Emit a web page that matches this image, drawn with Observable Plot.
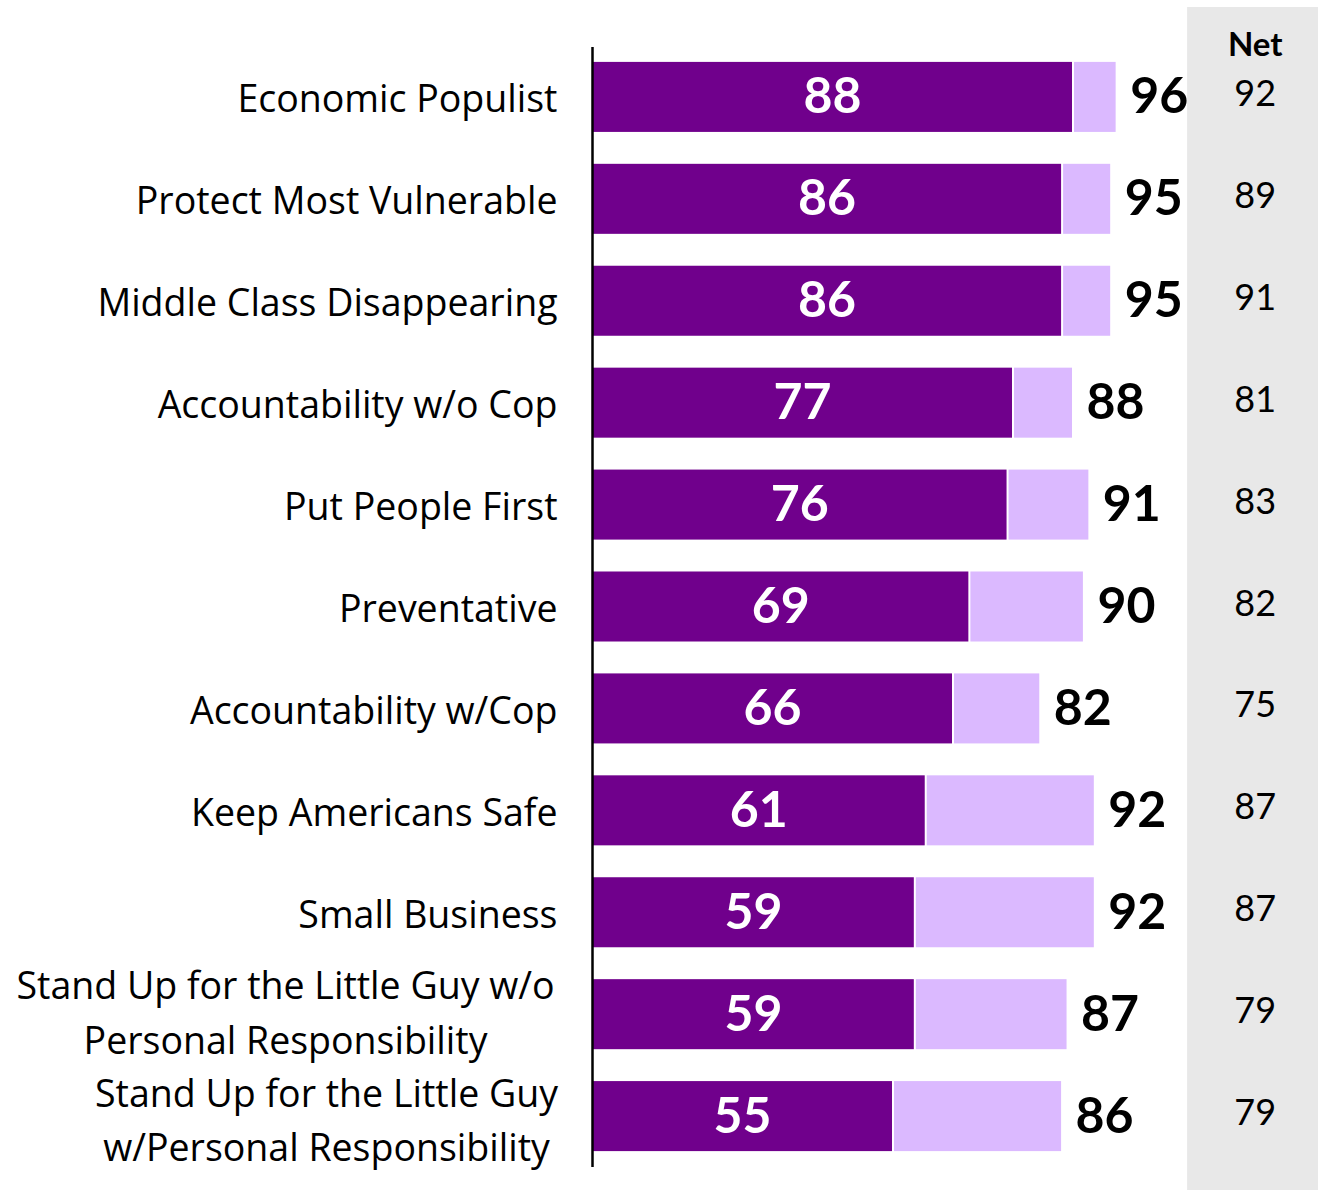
<!DOCTYPE html>
<html>
<head>
<meta charset="utf-8">
<script src="https://cdn.jsdelivr.net/npm/d3@7"></script>
<script src="https://cdn.jsdelivr.net/npm/@observablehq/plot@0.6"></script>
<style>
  html, body { margin: 0; padding: 0; background: #fff; }
  #chart svg { display: block; }
</style>
</head>
<body>
<div id="chart"></div>
<script>
const categories = [
  "Economic Populist",
  "Protect Most Vulnerable",
  "Middle Class Disappearing",
  "Accountability w/o Cop",
  "Put People First",
  "Preventative",
  "Accountability w/Cop",
  "Keep Americans Safe",
  "Small Business",
  "Stand Up for the Little Guy w/o\nPersonal Responsibility",
  "Stand Up for the Little Guy\nw/Personal Responsibility"
];
const strong = [88, 86, 86, 77, 76, 69, 66, 61, 59, 59, 55];
const total  = [96, 95, 95, 88, 91, 90, 82, 92, 92, 87, 86];
const net    = [92, 89, 91, 81, 83, 82, 75, 87, 87, 79, 79];
const netHeader = "Net";

const data = categories.map((c, i) => ({cat: c, strong: strong[i], total: total[i], net: net[i]}));
const single = data.filter(d => !d.cat.includes("\n"));
const multi = data.filter(d => d.cat.includes("\n"));

const DARK = "#70008C";
const LIGHT = "#DBB9FF";
const FONT = "Lato, 'Open Sans', sans-serif";
const LABEL_FONT = "'Open Sans', 'Noto Sans', sans-serif";

const chart = Plot.plot({
  width: 1318,
  height: 1190,
  marginLeft: 592,
  marginRight: 0,
  marginTop: 30,
  marginBottom: 7,
  style: {fontFamily: FONT, background: "#fff"},
  x: {domain: [0, 133.1], axis: null},
  y: {domain: categories, padding: 0.313, round: false, axis: null},
  marks: [
    // Net column background
    Plot.rect([netHeader], {x1: 109.1, x2: 133.1, fill: "#E8E8E8", insetTop: -23, insetBottom: -7}),
    Plot.barX(data, {x1: 0, x2: "strong", y: "cat", fill: DARK}),
    Plot.barX(data, {x1: "strong", x2: "total", y: "cat", fill: LIGHT, insetLeft: 2}),
    Plot.ruleX([0], {stroke: "#000", strokeWidth: 2.5, insetTop: 17, insetBottom: 16}),
    // inside labels
    Plot.text(data, {x: d => d.strong / 2, y: "cat", text: d => String(d.strong), fill: "#fff", fontSize: 50, fontWeight: "bold"}),
    // total labels
    Plot.text(data, {x: "total", y: "cat", text: d => String(d.total), textAnchor: "start", dx: 14, fill: "#000", fontSize: 50, fontWeight: "bold"}),
    // net values
    Plot.text(data, {x: 121.5, y: "cat", text: d => String(d.net), fill: "#000", fontSize: 36, dy: -3}),
    Plot.text([netHeader], {x: 121.5, frameAnchor: "top", lineAnchor: "middle", dy: 15, text: d => d, fill: "#000", fontSize: 33, fontWeight: "bold"}),
    // category labels
    Plot.text(single, {x: 0, y: "cat", text: "cat", textAnchor: "end", dx: -35, dy: 3, fill: "#000", fontSize: 37.5, fontFamily: LABEL_FONT}),
    Plot.text(multi.slice(0, 1), {x: 0, y: "cat", text: "cat", textAnchor: "middle", dx: -307, dy: -6, lineHeight: 1.47, fill: "#000", fontSize: 37.5, fontFamily: LABEL_FONT}),
    Plot.text(multi.slice(1), {x: 0, y: "cat", text: "cat", textAnchor: "middle", dx: -266, dy: 0, lineHeight: 1.44, fill: "#000", fontSize: 37.5, fontFamily: LABEL_FONT})
  ]
});
document.getElementById("chart").appendChild(chart);
</script>
</body>
</html>
